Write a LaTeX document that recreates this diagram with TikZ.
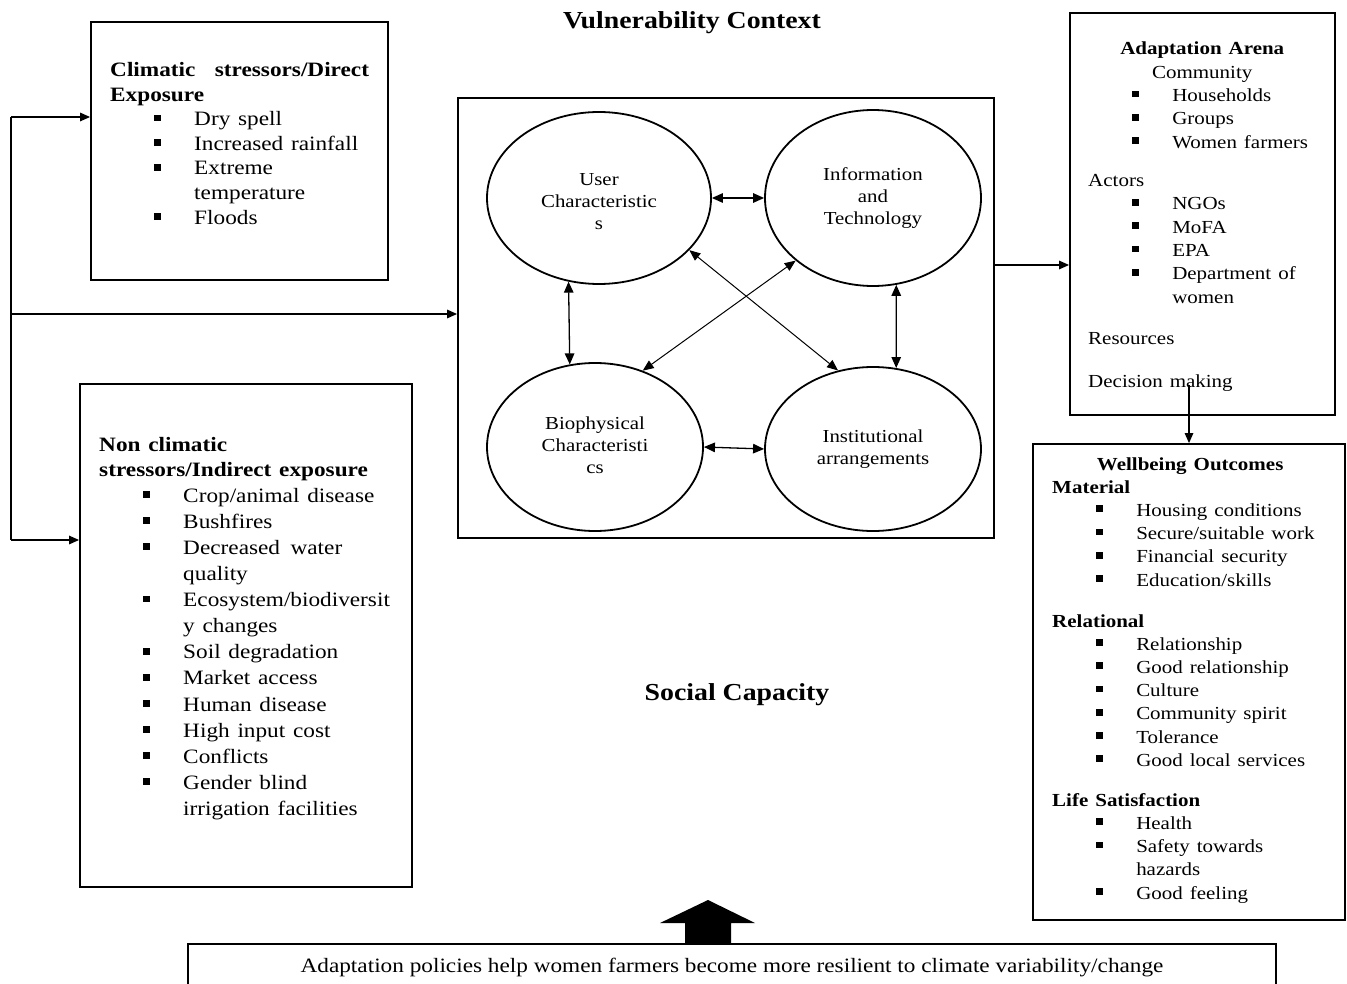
\documentclass[tikz,border=0pt]{standalone}
\usepackage{fontspec}
\setmainfont{Liberation Serif}
\usepackage{graphicx}
\usetikzlibrary{arrows.meta,shapes.geometric,calc}
\newcommand\bsq{\rule[4.3pt]{5.7pt}{6.7pt}}
\newcommand\lbi[1]{\hspace*{38.6pt}\makebox[35.1pt][l]{\bsq}#1}
\newcommand\lbc[1]{\hspace*{73.7pt}#1}
\newcommand\fsA{\fontsize{20.4}{24.6}\selectfont}
\newcommand\fsB{\fontsize{20.4}{26.1}\selectfont}
\newcommand\fsC{\fontsize{18.4}{23.3}\selectfont}
\newcommand\fsD{\fontsize{18.4}{23.2}\selectfont}
\newcommand\fsE{\fontsize{18.3}{22}\selectfont}
\newcommand\fsT{\fontsize{24.4}{28}\selectfont\bfseries}
\newcommand\fsP{\fontsize{20.4}{24}\selectfont}
\begin{document}
\begin{tikzpicture}[x=1pt,y=-1pt,
  box/.style={draw, line width=1.8pt, rectangle, inner sep=0pt},
  elli/.style={draw, ellipse, line width=1.8pt, inner sep=0pt},
  txt/.style={inner sep=0pt, xscale=1.14, align=left},
  arr/.style={line width=1.3pt, -{Triangle[length=10pt,width=8.5pt]}},
  darr/.style={line width=1.3pt, {Triangle[length=11pt,width=9.5pt]}-{Triangle[length=11pt,width=9.5pt]}},
  diagarr/.style={line width=1pt, {Triangle[length=11pt,width=9pt]}-{Triangle[length=11pt,width=9pt]}}
]
\clip (0,0) rectangle (1347,984);
\fill[white] (0,0) rectangle (1347,984);

% titles
\node[inner sep=0pt, font=\fsT, xscale=1.14] (vtitle) at (692,23) {Vulnerability Context};
\node[inner sep=0pt, font=\fsT, xscale=1.14] (stitle) at (737,695) {Social Capacity};

% boxes
\node[box, minimum width=297pt, minimum height=258pt] (tl) at (239.5,151) {};
\node[box, minimum width=332pt, minimum height=503pt] (bl) at (246,635.5) {};
\node[box, minimum width=536pt, minimum height=440pt] (central) at (726,318) {};
\node[box, minimum width=265pt, minimum height=402pt] (adapt) at (1202.5,214) {};
\node[box, minimum width=312pt, minimum height=476pt] (well) at (1189,682) {};
\node[box, minimum width=1088pt, minimum height=66pt] (policy) at (732,977) {};

% top-left content
\node[txt, font=\fsA, text width=300pt, anchor=base west] (tltext) at (110,76.5)
{\textbf{\makebox[227pt][s]{Climatic\hfill stressors/Direct}}\\
 \textbf{Exposure}\\
 \lbi{Dry spell}\\
 \lbi{Increased rainfall}\\
 \lbi{Extreme}\\
 \lbc{temperature}\\
 \lbi{Floods}};

% bottom-left content
\node[txt, font=\fsB, text width=320pt, anchor=base west] (bltext) at (99,451)
{\textbf{Non climatic}\\[-1pt]
 \textbf{stressors/Indirect exposure}\\
 \lbi{Crop/animal disease}\\
 \lbi{Bushfires}\\
 \lbi{\makebox[139.5pt][s]{Decreased\hfill water}}\\
 \lbc{quality}\\
 \lbi{Ecosystem/biodiversit}\\
 \lbc{y changes}\\
 \lbi{Soil degradation}\\
 \lbi{Market access}\\
 \lbi{Human disease}\\
 \lbi{High input cost}\\
 \lbi{Conflicts}\\
 \lbi{Gender blind}\\
 \lbc{irrigation facilities}};

% adaptation arena content
\node[txt, font=\fsC, text width=300pt, anchor=base west] (adtext) at (1088,55)
{\makebox[200pt][c]{\textbf{Adaptation Arena}}\\
 \makebox[200pt][c]{Community}\\
 \lbi{Households}\\
 \lbi{Groups}\\
 \lbi{Women farmers}\\[15.2pt]
 Actors\\
 \lbi{NGOs}\\
 \lbi{MoFA}\\
 \lbi{EPA}\\
 \lbi{Department of}\\
 \lbc{women}\\[18.5pt]
 Resources\\[19.7pt]
 Decision making};

% wellbeing content
\node[txt, font=\fsD, text width=300pt, anchor=base west] (wbtext) at (1052,470)
{\makebox[242pt][c]{\textbf{Wellbeing Outcomes}}\\
 \textbf{Material}\\
 \lbi{Housing conditions}\\
 \lbi{Secure/suitable work}\\
 \lbi{Financial security}\\
 \lbi{Education/skills}\\[17.8pt]
 \textbf{Relational}\\
 \lbi{Relationship}\\
 \lbi{Good relationship}\\
 \lbi{Culture}\\
 \lbi{Community spirit}\\
 \lbi{Tolerance}\\
 \lbi{Good local services}\\[16.8pt]
 \textbf{Life Satisfaction}\\
 \lbi{Health}\\
 \lbi{Safety towards}\\
 \lbc{hazards}\\
 \lbi{Good feeling}};

% policy text
\node[inner sep=0pt, font=\fsP, xscale=1.14] (ptext) at (732,968)
{Adaptation policies help women farmers become more resilient to climate variability/change};

% ellipses
\node[elli, minimum width=224pt, minimum height=172pt] (user) at (599,198)
{\raisebox{-5pt}[\height][\depth]{\scalebox{1.14}[1]{\fsE\begin{tabular}{@{}c@{}}User\\Characteristic\\s\end{tabular}}}};
\node[elli, minimum width=216pt, minimum height=176pt] (info) at (873,198)
{\scalebox{1.14}[1]{\fsE\begin{tabular}{@{}c@{}}Information\\and\\Technology\end{tabular}}};
\node[elli, minimum width=216pt, minimum height=168pt] (bio) at (595,447)
{\scalebox{1.14}[1]{\fsE\begin{tabular}{@{}c@{}}Biophysical\\Characteristi\\cs\end{tabular}}};
\node[elli, minimum width=216pt, minimum height=164pt] (inst) at (873,449)
{\scalebox{1.14}[1]{\fsE\begin{tabular}{@{}c@{}}Institutional\\arrangements\end{tabular}}};

% ellipse connectors
\draw[darr] (user.0) -- (info.180);
\draw[darr] (bio.0) -- (inst.180);
\draw[darr] (user.250.1) -- (bio.107.7);
\draw[darr] (info.285) -- (inst.74);
\draw[diagarr] (user.330.3) -- (inst.114.6);
\draw[diagarr] (info.219.2) -- (bio.58.7);

% left feed
\coordinate (f1) at (11,117);
\coordinate (f2) at (11,314);
\coordinate (f3) at (11,540);
\draw[line width=1.3pt] (f1) -- (f3);
\draw[arr] (f1) -- (f1 -| tl.west);
\draw[arr] (f2) -- (f2 -| central.west);
\draw[arr] (f3) -- (f3 -| bl.west);

% central to adaptation
\coordinate (ca) at (1030,265);
\draw[arr] (ca -| central.east) -- (ca -| adapt.west);

% decision making to wellbeing
\coordinate (dm) at (1189,385);
\draw[arr] (dm) -- (dm |- well.north);

% block arrow
\fill (685,944) -- (685,923) -- (660,923) -- (708,900) -- (755,923) -- (731,923) -- (731,944) -- cycle;
\end{tikzpicture}
\end{document}
